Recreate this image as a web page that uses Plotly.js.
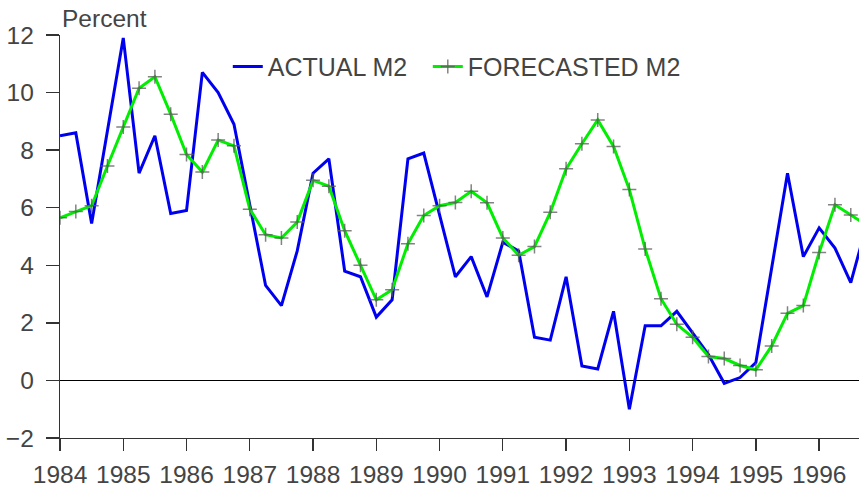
<!DOCTYPE html>
<html>
<head>
<meta charset="utf-8">
<script src="https://cdn.plot.ly/plotly-3.0.1.min.js"></script>
<style>
  html, body { margin: 0; padding: 0; background: #fff; }
  #chart { width: 859px; height: 489px; }
</style>
</head>
<body>
<div id="chart"></div>
<script>
// Quarterly dates (decimal years)
var quarters = [
  1984.0, 1984.25, 1984.5, 1984.75,
  1985.0, 1985.25, 1985.5, 1985.75,
  1986.0, 1986.25, 1986.5, 1986.75,
  1987.0, 1987.25, 1987.5, 1987.75,
  1988.0, 1988.25, 1988.5, 1988.75,
  1989.0, 1989.25, 1989.5, 1989.75,
  1990.0, 1990.25, 1990.5, 1990.75,
  1991.0, 1991.25, 1991.5, 1991.75,
  1992.0, 1992.25, 1992.5, 1992.75,
  1993.0, 1993.25, 1993.5, 1993.75,
  1994.0, 1994.25, 1994.5, 1994.75,
  1995.0, 1995.25, 1995.5, 1995.75,
  1996.0, 1996.25, 1996.5, 1996.75
];

var actualM2 = [
  8.5, 8.6, 5.45, 8.65,
  11.9, 7.2, 8.5, 5.8,
  5.9, 10.7, 10.0, 8.9,
  6.1, 3.3, 2.6, 4.5,
  7.2, 7.7, 3.8, 3.6,
  2.2, 2.8, 7.7, 7.9,
  5.75, 3.6, 4.3, 2.9,
  4.8, 4.5, 1.5, 1.4,
  3.6, 0.5, 0.4, 2.4,
  -1.0, 1.9, 1.9, 2.4,
  1.65, 0.9, -0.1, 0.1,
  0.62, 3.9, 7.2, 4.3,
  5.3, 4.6, 3.4, 5.4
];

var forecastM2 = [
  5.65, 5.87, 6.07, 7.45,
  8.8, 10.15, 10.55, 9.25,
  7.85, 7.24, 8.35, 8.15,
  5.95, 5.06, 4.95, 5.5,
  6.95, 6.75, 5.2, 4.0,
  2.8, 3.15, 4.75, 5.73,
  6.07, 6.18, 6.57, 6.17,
  4.95, 4.35, 4.65, 5.84,
  7.35, 8.22, 9.05, 8.13,
  6.63, 4.57, 2.84, 1.95,
  1.5, 0.83, 0.76, 0.52,
  0.37, 1.2, 2.33, 2.6,
  4.44, 6.1, 5.75, 5.4
];

var yearTicks = [1984, 1985, 1986, 1987, 1988, 1989, 1990, 1991, 1992, 1993, 1994, 1995, 1996];
var yearLabels = ["1984", "1985", "1986", "1987", "1988", "1989", "1990", "1991", "1992", "1993", "1994", "1995", "1996"];
var yTicks = [-2, 0, 2, 4, 6, 8, 10, 12];

var textColor = '#444444';
var fontFamily = '"Liberation Sans", Arial, sans-serif';

var traces = [
  {
    x: quarters, y: actualM2, name: 'ACTUAL M2',
    type: 'scatter', mode: 'lines',
    line: { color: '#0000f0', width: 3 },
    legendwidth: 155,
    cliponaxis: true
  },
  {
    x: quarters, y: forecastM2, name: 'FORECASTED M2',
    type: 'scatter', mode: 'lines+markers',
    line: { color: '#00ee00', width: 3 },
    marker: { symbol: 'cross-thin', size: 10, color: 'rgba(90,90,90,0.75)',
              line: { color: 'rgba(90,90,90,0.75)', width: 1.5 } },
    legendwidth: 220,
    cliponaxis: true
  }
];

var layout = {
  width: 859, height: 489,
  margin: { l: 60, r: 0, t: 35, b: 51 },
  paper_bgcolor: '#ffffff', plot_bgcolor: '#ffffff',
  font: { family: fontFamily, size: 24, color: textColor },
  showlegend: true,
  legend: {
    orientation: 'h', x: 0.21, xanchor: 'left', y: 0.978, yanchor: 'top',
    bgcolor: 'rgba(0,0,0,0)', font: { size: 25, color: textColor },
    itemwidth: 30, tracegroupgap: 0
  },
  xaxis: {
    range: [1984, 1996.63],
    tickmode: 'array', tickvals: yearTicks, ticktext: yearLabels,
    ticks: 'outside', ticklen: 12, tickwidth: 1.3, tickcolor: '#333333',
    showline: true, linecolor: '#333333', linewidth: 1.3,
    showgrid: false, zeroline: false,
    tickfont: { size: 24.5, color: textColor },
    ticklabelstandoff: 2
  },
  yaxis: {
    range: [-2, 12],
    tickmode: 'array', tickvals: yTicks,
    ticks: 'outside', ticklen: 13, tickwidth: 1.3, tickcolor: '#333333',
    showline: true, linecolor: '#333333', linewidth: 1.3,
    showgrid: false,
    zeroline: true, zerolinecolor: '#000000', zerolinewidth: 1.3,
    tickfont: { size: 24.5, color: textColor },
    ticklabelstandoff: 7
  },
  annotations: [
    { text: 'Percent', xref: 'paper', yref: 'paper', x: 0, y: 1,
      xanchor: 'left', yanchor: 'bottom', xshift: 0, yshift: 1, showarrow: false,
      font: { size: 24.5, color: textColor } }
  ]
};

Plotly.newPlot('chart', traces, layout, { displayModeBar: false, staticPlot: true });
</script>
</body>
</html>
